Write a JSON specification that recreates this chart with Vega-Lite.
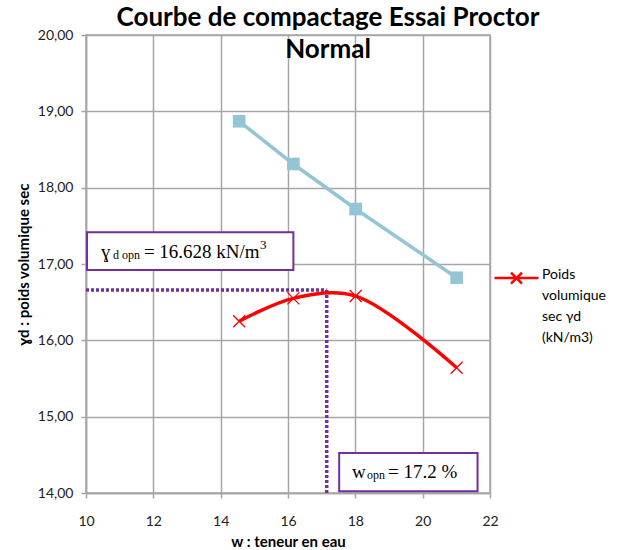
{
  "$schema": "https://vega.github.io/schema/vega-lite/v6.json",
  "width": 404,
  "height": 458,
  "autosize": {"type": "none"},
  "padding": {"left": 86, "top": 35, "right": 136, "bottom": 57},
  "background": "white",
  "config": {
    "view": {"stroke": "#a6a6a6", "strokeWidth": 1.5},
    "font": "Lato",
    "axis": {
      "gridColor": "#a6a6a6", "gridWidth": 1.5, "gridOpacity": 1,
      "domainColor": "#a6a6a6", "domainWidth": 1.5,
      "tickColor": "#a6a6a6", "tickSize": 5, "tickWidth": 1.5,
      "labelFont": "Lato", "labelFontSize": 14, "labelColor": "#222222", "labelFlush": false,
      "titleFont": "Lato", "titleFontSize": 15, "titleFontWeight": "bold", "titleColor": "#000000"
    }
  },
  "title": {
    "text": ["Courbe de compactage Essai Proctor", "Normal"],
    "font": "Lato", "fontSize": 26, "fontWeight": "bold", "color": "#000000",
    "anchor": "middle", "frame": "group", "dx": 40, "offset": -35, "lineHeight": 32
  },
  "datasets": {
    "compact": [
      {"w": 14.55, "gd": 16.25, "serie": "Poids volumique sec γd (kN/m3)"},
      {"w": 16.16, "gd": 16.55, "serie": "Poids volumique sec γd (kN/m3)"},
      {"w": 18.01, "gd": 16.58, "serie": "Poids volumique sec γd (kN/m3)"},
      {"w": 21.01, "gd": 15.64, "serie": "Poids volumique sec γd (kN/m3)"}
    ],
    "sat": [
      {"w": 14.55, "gd": 18.87},
      {"w": 16.16, "gd": 18.31},
      {"w": 18.01, "gd": 17.72},
      {"w": 21.01, "gd": 16.82}
    ],
    "dots": [
      {"x": 10, "x2": 17.15, "y": 16.66, "y2": 16.66},
      {"x": 17.15, "x2": 17.15, "y": 14, "y2": 16.66}
    ],
    "boxes": [
      {"x": 10.03, "x2": 16.16, "y": 16.92, "y2": 17.416},
      {"x": 17.52, "x2": 21.63, "y": 14.022, "y2": 14.523}
    ],
    "main": [
      {"x": 10.443, "y": 17.078, "t": "ɣ"},
      {"x": 11.72, "y": 17.078, "t": "= 16.628 kN/m"},
      {"x": 17.9, "y": 14.2, "t": "w"},
      {"x": 18.97, "y": 14.2, "t": "= 17.2 %"}
    ],
    "sub": [
      {"x": 10.8, "y": 17.059, "t": "d opn"},
      {"x": 18.35, "y": 14.18, "t": "opn"}
    ],
    "sup": [
      {"x": 15.17, "y": 17.19, "t": "3"}
    ]
  },
  "encoding": {
    "x": {"field": "w", "type": "quantitative", "scale": {"domain": [10, 22], "nice": false},
      "axis": {"values": [10, 12, 14, 16, 18, 20, 22], "title": "w : teneur en eau", "labelPadding": 16, "titlePadding": 6}},
    "y": {"field": "gd", "type": "quantitative", "scale": {"domain": [14, 20], "nice": false, "zero": false},
      "axis": {"values": [14, 15, 16, 17, 18, 19, 20], "title": "ɣd : poids volumique sec",
        "labelExpr": "replace(format(datum.value, '.2f'), '.', ',')", "labelPadding": 8, "titlePadding": 6}}
  },
  "layer": [
    {
      "data": {"name": "dots"},
      "mark": {"type": "rule", "color": "#7030a0", "strokeWidth": 3.5, "strokeDash": [3, 2]},
      "encoding": {
        "x": {"field": "x", "type": "quantitative"},
        "x2": {"field": "x2"},
        "y": {"field": "y", "type": "quantitative"},
        "y2": {"field": "y2"}
      }
    },
    {
      "data": {"name": "sat"},
      "mark": {"type": "line", "color": "#93c5d5", "strokeWidth": 3.5},
      "encoding": {}
    },
    {
      "data": {"name": "sat"},
      "mark": {"type": "point", "shape": "square", "filled": true, "color": "#93c5d5", "opacity": 1, "size": 160},
      "encoding": {}
    },
    {
      "data": {"name": "compact"},
      "mark": {"type": "line", "interpolate": "catmull-rom", "strokeWidth": 3.5},
      "encoding": {
        "color": {"field": "serie", "type": "nominal", "scale": {"range": ["#ff0000"]},
          "legend": {
            "title": null, "orient": "none", "legendX": 407, "legendY": 209,
            "symbolType": "M-1,0.48H1M-0.25,0.23L0.25,0.73M-0.25,0.73L0.25,0.23",
            "symbolSize": 1936, "symbolStrokeWidth": 2.5, "symbolStrokeColor": "#ff0000",
            "labelExpr": "['Poids', 'volumique', 'sec γd', '(kN/m3)']",
            "labelFont": "Lato", "labelFontSize": 14, "labelColor": "#000000",
            "labelBaseline": "top", "labelOffset": 2, "labelLimit": 200,
            "encode": {"labels": {"update": {"lineHeight": {"value": 21}}}}
          }}
      }
    },
    {
      "data": {"name": "compact"},
      "mark": {"type": "point", "shape": "M-1,-1L1,1M-1,1L1,-1", "filled": false, "color": "#ff0000", "strokeWidth": 1.3, "size": 144, "opacity": 1},
      "encoding": {}
    },
    {
      "data": {"name": "boxes"},
      "mark": {"type": "rect", "fill": "white", "stroke": "#7030a0", "strokeWidth": 2},
      "encoding": {
        "x": {"field": "x", "type": "quantitative"},
        "x2": {"field": "x2"},
        "y": {"field": "y", "type": "quantitative"},
        "y2": {"field": "y2"}
      }
    },
    {
      "data": {"name": "main"},
      "mark": {"type": "text", "font": "Liberation Serif", "fontSize": 19, "align": "left", "baseline": "alphabetic", "color": "#000000"},
      "encoding": {
        "x": {"field": "x", "type": "quantitative"},
        "y": {"field": "y", "type": "quantitative"},
        "text": {"field": "t"}
      }
    },
    {
      "data": {"name": "sub"},
      "mark": {"type": "text", "font": "Liberation Serif", "fontSize": 12, "align": "left", "baseline": "alphabetic", "color": "#000000"},
      "encoding": {
        "x": {"field": "x", "type": "quantitative"},
        "y": {"field": "y", "type": "quantitative"},
        "text": {"field": "t"}
      }
    },
    {
      "data": {"name": "sup"},
      "mark": {"type": "text", "font": "Liberation Serif", "fontSize": 13, "align": "left", "baseline": "alphabetic", "color": "#000000"},
      "encoding": {
        "x": {"field": "x", "type": "quantitative"},
        "y": {"field": "y", "type": "quantitative"},
        "text": {"field": "t"}
      }
    }
  ]
}
